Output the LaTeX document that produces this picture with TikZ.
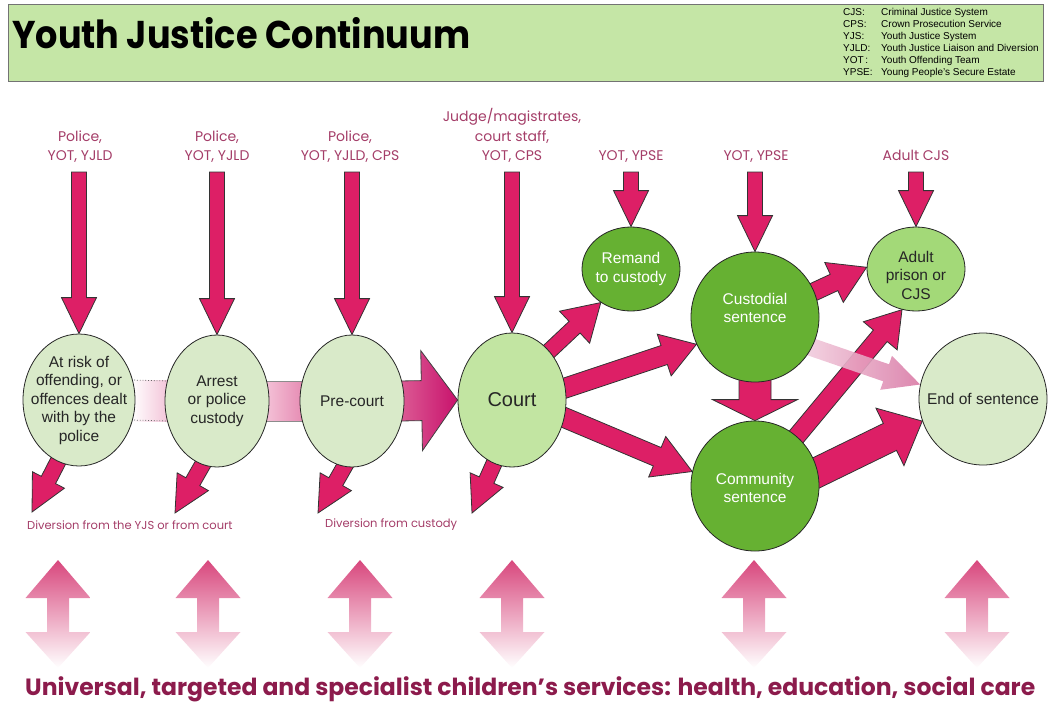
\documentclass[tikz,border=0pt]{standalone}
\usepackage{fontspec}
\usepackage{graphicx}
\setmainfont{Liberation Sans}
\newfontfamily\goth{Poppins}
\usetikzlibrary{shapes.geometric,calc,backgrounds}

\definecolor{arrowpink}{HTML}{DD1F66}
\definecolor{labelpink}{HTML}{A43D68}
\definecolor{palegreen}{HTML}{D9EAC9}
\definecolor{courtgreen}{HTML}{C2E5A2}
\definecolor{midgreen}{HTML}{66B132}
\definecolor{adultgreen}{HTML}{A3D978}
\definecolor{headgreen}{HTML}{C5E6A6}
\definecolor{bottomtext}{HTML}{8C1B4C}
\definecolor{bpink}{HTML}{D8477D}
\definecolor{lpink}{HTML}{F3C3D8}
\definecolor{mpinkA}{HTML}{F4C2D7}
\definecolor{mpinkB}{HTML}{E68BB3}
\definecolor{bigA}{HTML}{DC5C95}
\definecolor{bigB}{HTML}{C8126C}
\definecolor{fadeA}{HTML}{F2D0DF}
\definecolor{fadeB}{HTML}{D97AA6}

\newcommand\barrow[6][]{%
  \coordinate (ba-h) at ($(#3)!#6!(#2)$);
  \path[#1] ($(#2)!#4!90:(#3)$) -- ($(ba-h)!#4!90:(#3)$) -- ($(ba-h)!#5!90:(#3)$)
    -- (#3) -- ($(ba-h)!#5!-90:(#3)$) -- ($(ba-h)!#4!-90:(#3)$) -- ($(#2)!#4!-90:(#3)$) -- cycle;}

\tikzset{
  ell/.style={ellipse, draw=black!85, line width=0.8pt, inner sep=0pt},
  ntext/.style={align=center, font=\fontsize{15.5}{18.5}\selectfont, text=black!85},
  wtext/.style={align=center, font=\fontsize{15.5}{18.5}\selectfont, text=white},
  plabel/.style={align=center, text=labelpink, font=\goth\fontsize{14}{19.5}\selectfont, inner sep=0pt, text depth=0pt, anchor=south},
  dlabel/.style={text=labelpink, font=\goth\fontsize{11.5}{14}\selectfont, inner sep=0pt, anchor=west},
  arr/.style={fill=arrowpink, draw=black!80, line width=0.8pt, line join=miter},
}

\begin{document}
\begin{tikzpicture}[x=1pt, y=-1pt]
\useasboundingbox (0,0) rectangle (1048,704);

% header
\node[draw=black!55, fill=headgreen, line width=1.4pt, minimum width=1035pt, minimum height=77pt, anchor=north west, inner sep=0pt] (header) at (8,4) {};
\node[anchor=base west, inner sep=0pt] (title) at (12,48) {\resizebox{458pt}{31pt}{\goth\bfseries Youth Justice Continuum}};
\node[anchor=north west, inner sep=0pt] (legend) at (843,7) {\fontsize{10}{12}\selectfont
  \begin{tabular}{@{}p{38pt}@{}l@{}}
  CJS: & Criminal Justice System\\
  CPS: & Crown Prosecution Service\\
  YJS: & Youth Justice System\\
  YJLD: & Youth Justice Liaison and Diversion\\
  YOT\,: & Youth Offending Team\\
  YPSE: & Young People’s Secure Estate
  \end{tabular}};

% nodes
\node[ell, fill=palegreen, minimum width=112pt, minimum height=132pt,
  label={[ntext]center:At risk of\\offending, or\\offences dealt\\with by the\\police}] (e1) at (79,400) {};
\node[ell, fill=palegreen, minimum width=104pt, minimum height=132pt,
  label={[ntext]center:Arrest\\or police\\custody}] (e2) at (217,401) {};
\node[ell, fill=palegreen, minimum width=104pt, minimum height=132pt,
  label={[ntext]center:Pre-court}] (e3) at (352,401) {};
\node[ell, fill=courtgreen, minimum width=108pt, minimum height=134pt,
  label={[ntext, font=\fontsize{20}{24}\selectfont]center:Court}] (court) at (512,400) {};
\node[ell, fill=midgreen, minimum width=98pt, minimum height=84pt,
  label={[wtext]center:Remand\\to custody}] (remand) at (631,269) {};
\node[ell, fill=midgreen, minimum width=128pt, minimum height=130pt,
  label={[wtext, yshift=9pt]center:Custodial\\sentence}] (cust) at (755,317) {};
\node[ell, fill=midgreen, minimum width=128pt, minimum height=130pt,
  label={[wtext, yshift=-2pt]center:Community\\sentence}] (comm) at (755,486) {};
\node[ell, fill=adultgreen, minimum width=98pt, minimum height=84pt,
  label={[ntext, yshift=-6pt]center:Adult\\prison or\\CJS}] (adult) at (916,269) {};
\node[ell, fill=palegreen, minimum width=128pt, minimum height=132pt,
  label={[ntext]center:End of sentence}] (endn) at (983,399) {};

% top labels
\node[plabel] (l1) at (80,161) {Police,\\YOT, YJLD};
\node[plabel] (l2) at (217,161) {Police,\\YOT, YJLD};
\node[plabel] (l3) at (350,161) {Police,\\YOT, YJLD, CPS};
\node[plabel] (l4) at (512,161) {Judge/magistrates,\\court staff,\\YOT, CPS};
\node[plabel] (l5) at (631,161) {YOT, YPSE};
\node[plabel] (l6) at (756,161) {YOT, YPSE};
\node[plabel] (l7) at (916,161) {Adult CJS};

% diversion labels
\node[dlabel] (dl1) at (27,525) {Diversion from the YJS or from court};
\node[dlabel] (dl2) at (325,525) {Diversion from custody};

% bottom text
\node[anchor=base west, inner sep=0pt, text=bottomtext] (services) at (25,695)
  {\resizebox{1010pt}{!}{\goth\bfseries Universal, targeted and specialist children’s services: health, education, social care}};

% helper coordinates
\coordinate (topline) at (0,172);
\foreach \n in {e1,e2,e3,court,remand,cust,adult} {\coordinate (ta-\n) at (\n.north |- topline);}
\coordinate (dv1) at (32,512);
\coordinate (dv2) at (175,513);
\coordinate (dv3) at (318,513);
\coordinate (dv4) at (472,513);
\coordinate (ds1) at ($(e1)!0.9!(e1.252)$);
\coordinate (ds2) at ($(e2)!0.9!(e2.259)$);
\coordinate (ds3) at ($(e3)!0.9!(e3.266)$);
\coordinate (ds4) at ($(court)!0.9!(court.255)$);
\coordinate (s-cr) at ($(court)!0.88!(court.54)$);
\coordinate (s-cc) at ($(court)!0.88!(court.12)$);
\coordinate (s-cm) at ($(court)!0.88!(court.-18)$);
\coordinate (s-ccm) at ($(cust.south)+(0,-8)$);
\coordinate (s-ca) at ($(cust)!0.9!(cust.23)$);
\coordinate (s-ma) at ($(comm)!0.9!(comm.50)$);
\coordinate (s-me) at ($(comm)!0.9!(comm.11)$);
\coordinate (s-ce) at ($(cust)!0.9!(cust.-29)$);
\coordinate (s-e3) at ($(e3.east)+(-5,0)$);

\begin{pgfonlayer}{background}
  % links between first nodes
  \path[left color=white, right color=lpink] ($(e1.east)+(-4,-20)$) rectangle ($(e2.west)+(4,20)$);
  \draw[dotted, black!60, line width=0.8pt] ($(e1.east)+(-4,-20)$) -- ($(e2.west)+(4,-20)$)
    ($(e1.east)+(-4,20)$) -- ($(e2.west)+(4,20)$);
  \path[left color=mpinkA, right color=mpinkB] ($(e2.east)+(-4,-20)$) rectangle ($(e3.west)+(4,20)$);
  \draw[black!45, line width=0.6pt] ($(e2.east)+(-4,-20)$) -- ($(e3.west)+(4,-20)$)
    ($(e2.east)+(-4,20)$) -- ($(e3.west)+(4,20)$);
  \barrow[left color=bigA, right color=bigB, draw=black!75, line width=0.8pt]{s-e3}{court.west}{20pt}{50pt}{36pt}

  % top arrows
  \foreach \n in {e1,e2,e3,court,remand,cust,adult} {\barrow[arr]{ta-\n}{\n.north}{7.5pt}{17.5pt}{36pt}}

  % diversion arrows
  \foreach \i in {1,2,3,4} {\barrow[arr]{ds\i}{dv\i}{8pt}{18pt}{36pt}}

  % flows
  \barrow[arr]{s-cr}{remand.228}{8pt}{22pt}{36pt}
  \barrow[arr]{s-cc}{cust.205}{10pt}{22pt}{34pt}
  \barrow[arr]{s-cm}{comm.167}{10pt}{22pt}{38pt}
  \barrow[arr]{s-ccm}{comm.north}{16pt}{42.5pt}{21pt}
  \barrow[arr]{s-ca}{adult.178}{9pt}{22pt}{36pt}
  \barrow[arr]{s-ma}{adult.251}{9pt}{22pt}{34pt}
  \barrow[arr]{s-me}{endn.200}{15pt}{32pt}{36pt}
  \barrow[left color=fadeA, right color=fadeB, opacity=0.9]{s-ce}{endn.167}{9pt}{18pt}{36pt}
\end{pgfonlayer}

% bottom double arrows
\foreach \x in {58,208,360,512,754,977} {
  \path[top color=bpink, bottom color=white]
    (\x,560) -- (\x+32.5,598) -- (\x+11,598) -- (\x+11,632) -- (\x+32.5,632) -- (\x,668)
    -- (\x-32.5,632) -- (\x-11,632) -- (\x-11,598) -- (\x-32.5,598) -- cycle;
}
\end{tikzpicture}
\end{document}
